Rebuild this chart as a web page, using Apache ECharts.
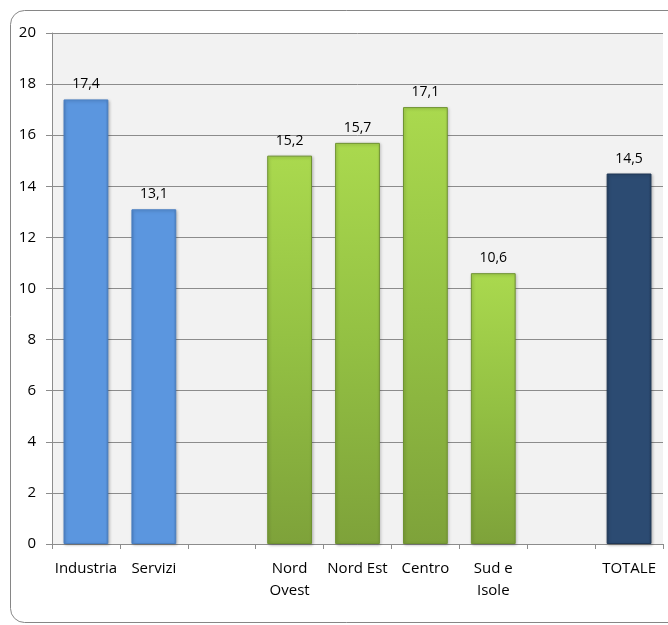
<!DOCTYPE html>
<html>
<head>
<meta charset="utf-8">
<script src="https://cdn.jsdelivr.net/npm/echarts@6/dist/echarts.min.js"></script>
<style>
  html, body { margin: 0; padding: 0; background: #ffffff; }
  #chart { width: 668px; height: 625px; }
</style>
</head>
<body>
<div id="chart"></div>
<script>
// Categories (empty slots separate the groups)
const categories = ['Industria', 'Servizi', '', 'Nord\nOvest', 'Nord Est', 'Centro', 'Sud e\nIsole', '', 'TOTALE'];
// Values per category (null = gap)
const values = [17.4, 13.1, null, 15.2, 15.7, 17.1, 10.6, null, 14.5];
// Group of each bar: sector, area, total
const groups = ['sector', 'sector', null, 'area', 'area', 'area', 'area', null, 'total'];
// Y axis ticks
const yMin = 0, yMax = 20, yStep = 2;

// Horizontal shading with narrow darker edges
function edgeFill(edge, body) {
  return {
    type: 'linear', x: 0, y: 0, x2: 1, y2: 0,
    colorStops: [
      { offset: 0, color: edge },
      { offset: 0.06, color: body },
      { offset: 0.94, color: body },
      { offset: 1, color: edge }
    ]
  };
}

const fills = {
  sector: () => edgeFill('#4a80c6', '#5b96df'),
  area: () => ({
    type: 'linear', x: 0, y: 0, x2: 0, y2: 1,
    colorStops: [
      { offset: 0, color: '#aad94e' },
      { offset: 0.5, color: '#93c043' },
      { offset: 1, color: '#7ea23a' }
    ]
  }),
  total: () => edgeFill('#223d5e', '#2c4b72')
};
const borders = { sector: '#4a7fc2', area: '#6f9232', total: '#1f3756' };

function barStyle(g) {
  return {
    color: fills[g](),
    borderColor: borders[g],
    borderWidth: 1,
    shadowColor: 'rgba(0,0,0,0.25)',
    shadowBlur: 3,
    shadowOffsetX: 1,
    shadowOffsetY: 1
  };
}

const seriesData = values.map((v, i) => (v === null ? null : { value: v, itemStyle: barStyle(groups[i]) }));

const chart = echarts.init(document.getElementById('chart'));
chart.setOption({
  animation: false,
  textStyle: { fontFamily: '"Open Sans", Lato, sans-serif' },
  graphic: [{
    type: 'rect',
    shape: { x: 10.5, y: 10.5, width: 680, height: 612, r: 14 },
    style: { fill: 'none', stroke: '#868686', lineWidth: 1 },
    silent: true, z: -10
  }],
  grid: {
    left: 52, right: 5, top: 33, bottom: 81,
    show: true, backgroundColor: '#f2f2f2', borderWidth: 0
  },
  xAxis: {
    type: 'category',
    data: categories,
    axisLine: { show: true, lineStyle: { color: '#8c8c8c', width: 1 } },
    axisTick: { show: true, interval: 0, length: 5, lineStyle: { color: '#8c8c8c' } },
    axisLabel: { interval: 0, color: '#000', fontSize: 15, margin: 14, lineHeight: 22 }
  },
  yAxis: {
    type: 'value',
    min: yMin, max: yMax, interval: yStep,
    axisLine: { show: true, lineStyle: { color: '#8c8c8c', width: 1 } },
    axisTick: { show: true, length: 6, lineStyle: { color: '#8c8c8c' } },
    axisLabel: { color: '#000', fontSize: 15, margin: 16 },
    splitLine: { show: true, lineStyle: { color: '#8c8c8c', width: 1 } }
  },
  series: [{
    type: 'bar',
    data: seriesData,
    barWidth: '66%',
    label: {
      show: true, position: 'top', distance: 8,
      color: '#000', fontSize: 14,
      formatter: p => String(p.value).replace('.', ',')
    }
  }]
});
</script>
</body>
</html>
